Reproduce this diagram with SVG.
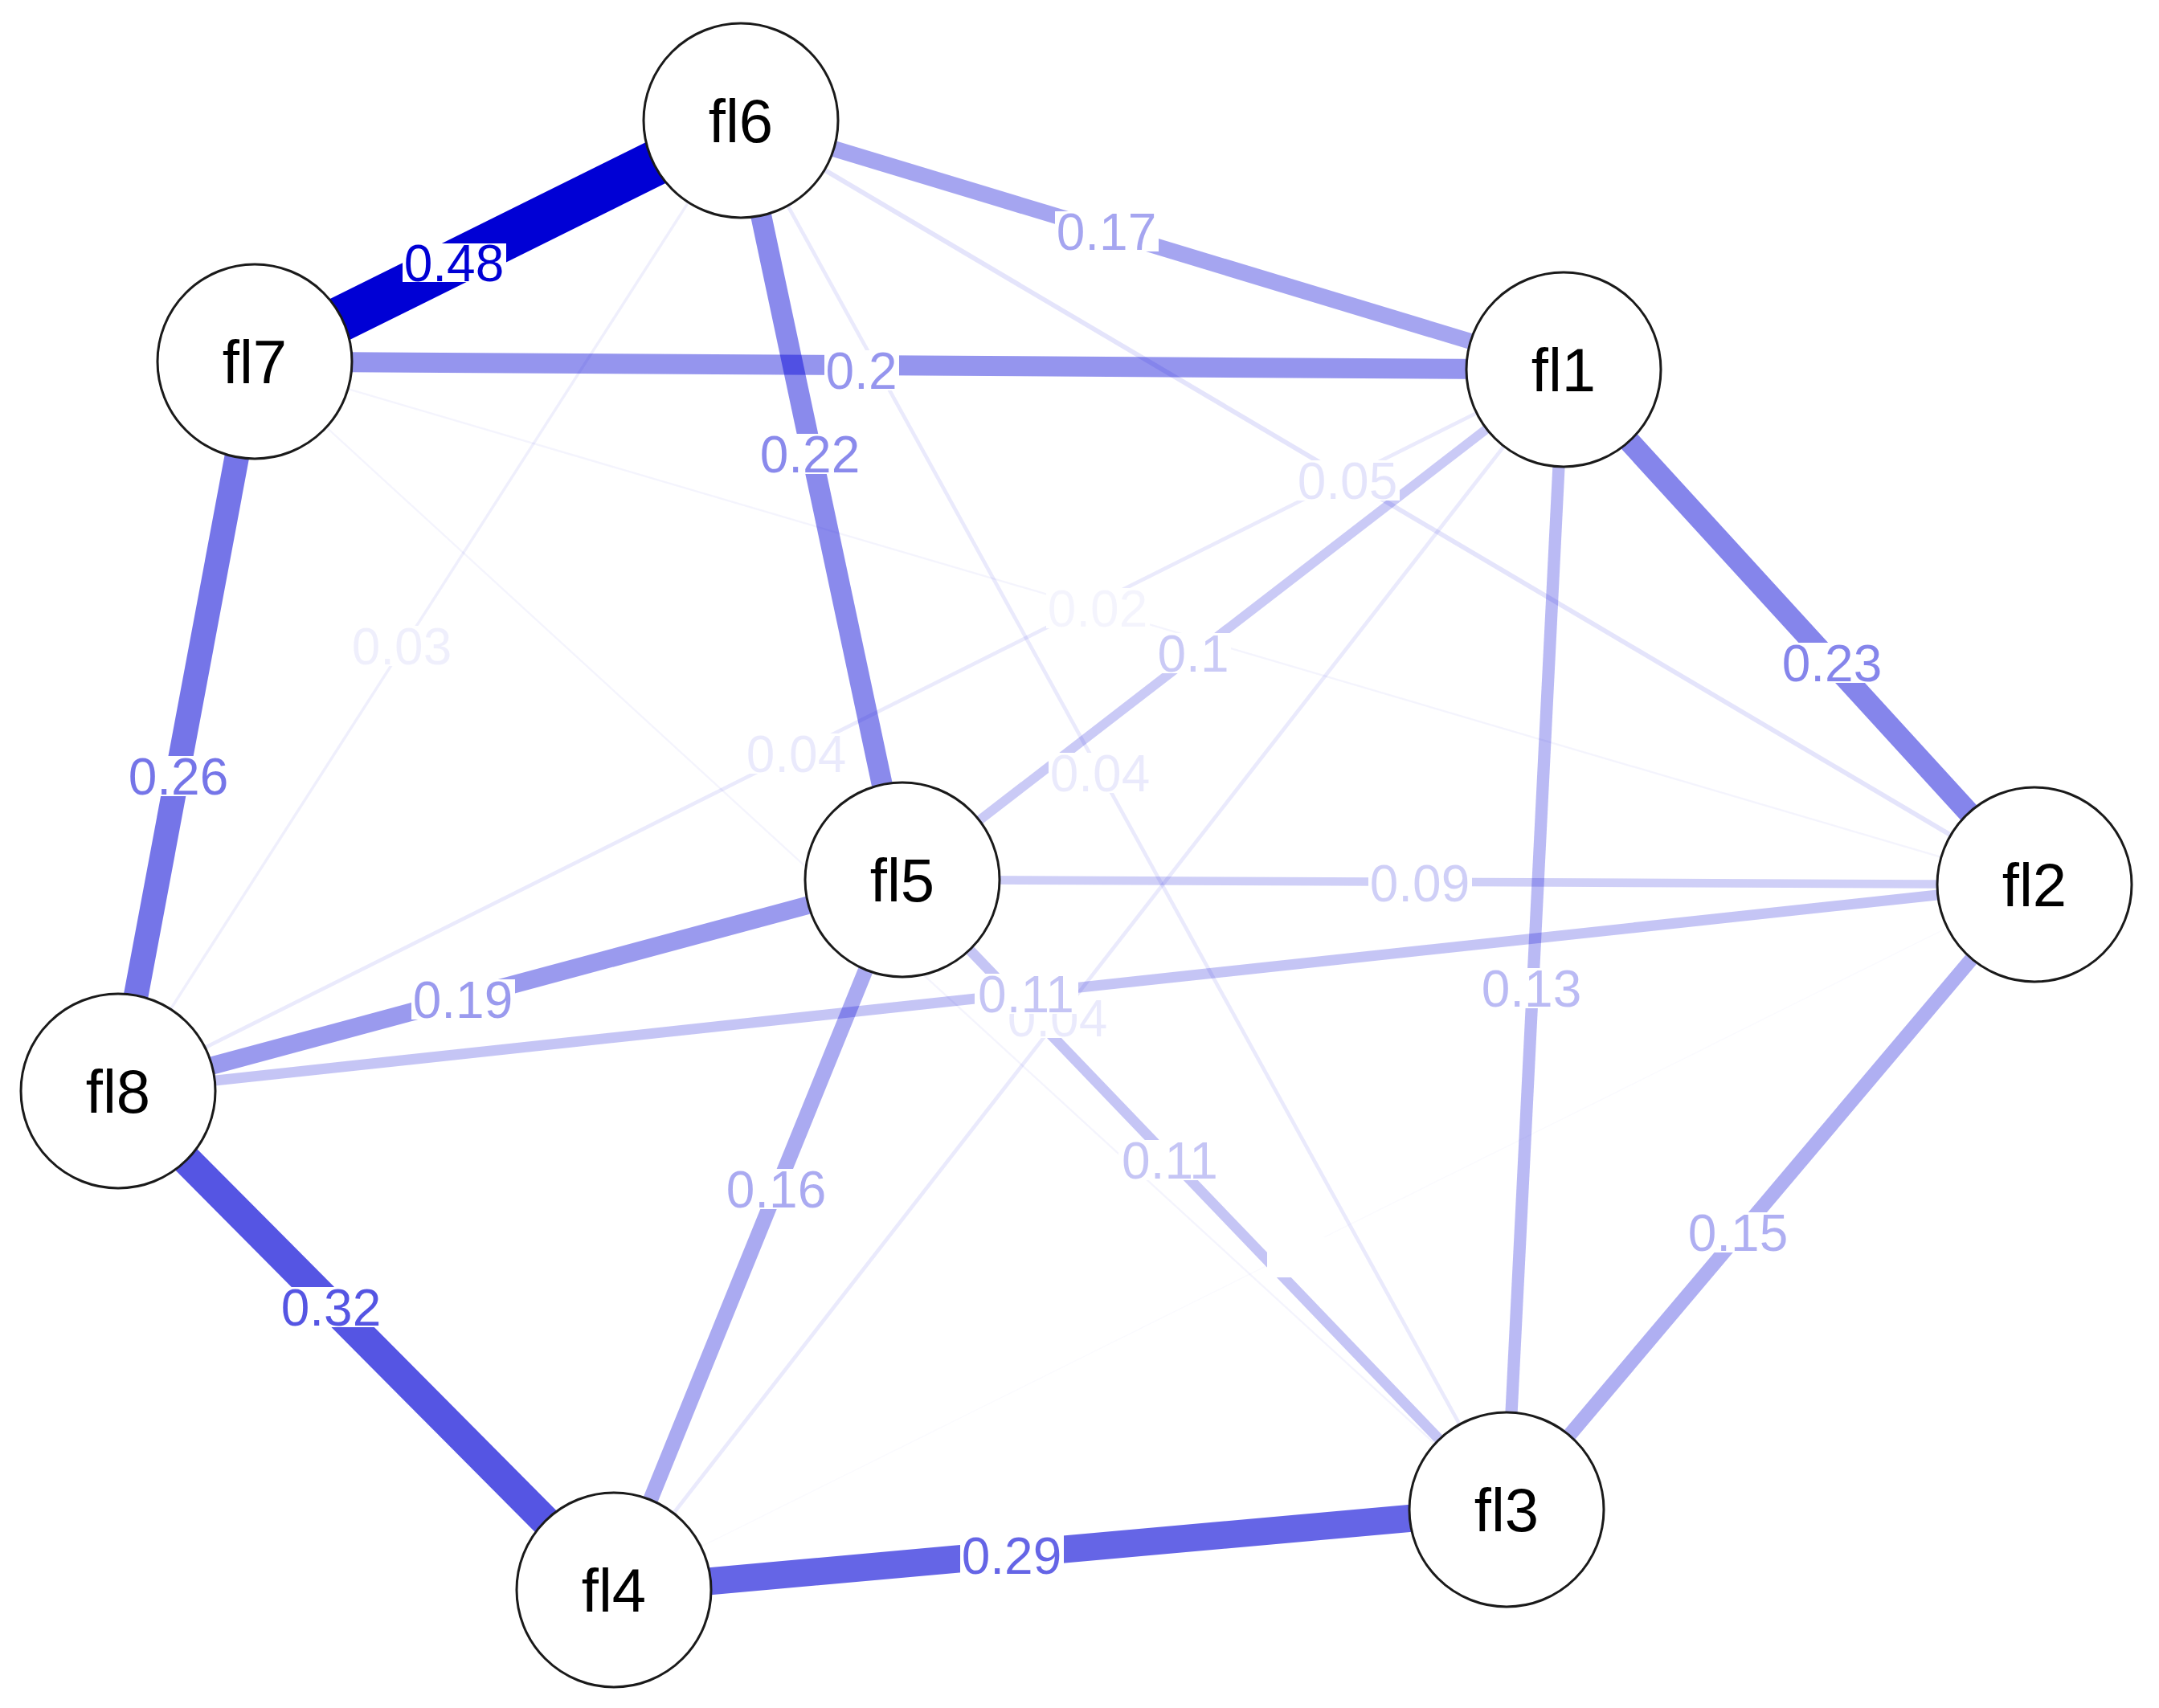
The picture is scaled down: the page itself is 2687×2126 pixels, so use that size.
<svg xmlns="http://www.w3.org/2000/svg" width="2687" height="2126" viewBox="0 0 2687 2126">
<style>
.e{fill:none;stroke:#0000D5;stroke-linecap:butt}
.bg{fill:#ffffff}
.lbl{font-family:"Liberation Sans",Arial,sans-serif;font-size:64px;text-anchor:middle;fill:#0000D5}
.node circle{fill:#ffffff;stroke:#1a1a1a;stroke-width:3}
.node text{font-family:"Liberation Sans",Arial,sans-serif;font-size:76px;text-anchor:middle;fill:#000000}
</style>
<rect x="0" y="0" width="2687" height="2126" fill="#ffffff"/>
<g id="connectors">
<line class="e" x1="764" y1="1979" x2="2532" y2="1101" stroke-width="1.5" stroke-opacity="0.02"/>
<line class="e" x1="317" y1="450" x2="1875" y2="1879" stroke-width="2.4" stroke-opacity="0.045"/>
<line class="e" x1="317" y1="450" x2="2532" y2="1101" stroke-width="2.4" stroke-opacity="0.042"/>
<line class="e" x1="147" y1="1358" x2="922" y2="150" stroke-width="3.5" stroke-opacity="0.0625"/>
<line class="e" x1="147" y1="1358" x2="1946" y2="460" stroke-width="4.7" stroke-opacity="0.083"/>
<line class="e" x1="922" y1="150" x2="1875" y2="1879" stroke-width="4.7" stroke-opacity="0.083"/>
<line class="e" x1="1946" y1="460" x2="764" y2="1979" stroke-width="4.7" stroke-opacity="0.083"/>
<line class="e" x1="922" y1="150" x2="2532" y2="1101" stroke-width="5.9" stroke-opacity="0.104"/>
<line class="e" x1="1123" y1="1095" x2="2532" y2="1101" stroke-width="10.6" stroke-opacity="0.1875"/>
<line class="e" x1="1123" y1="1095" x2="1946" y2="460" stroke-width="11.8" stroke-opacity="0.208"/>
<line class="e" x1="147" y1="1358" x2="2532" y2="1101" stroke-width="13" stroke-opacity="0.229"/>
<line class="e" x1="1123" y1="1095" x2="1875" y2="1879" stroke-width="13" stroke-opacity="0.229"/>
<line class="e" x1="1946" y1="460" x2="1875" y2="1879" stroke-width="15.3" stroke-opacity="0.271"/>
<line class="e" x1="2532" y1="1101" x2="1875" y2="1879" stroke-width="17.7" stroke-opacity="0.3125"/>
<line class="e" x1="1123" y1="1095" x2="764" y2="1979" stroke-width="18.9" stroke-opacity="0.333"/>
<line class="e" x1="922" y1="150" x2="1946" y2="460" stroke-width="20" stroke-opacity="0.354"/>
<line class="e" x1="147" y1="1358" x2="1123" y2="1095" stroke-width="22.4" stroke-opacity="0.396"/>
<line class="e" x1="317" y1="450" x2="1946" y2="460" stroke-width="25" stroke-opacity="0.417"/>
<line class="e" x1="922" y1="150" x2="1123" y2="1095" stroke-width="26" stroke-opacity="0.458"/>
<line class="e" x1="1946" y1="460" x2="2532" y2="1101" stroke-width="27.1" stroke-opacity="0.479"/>
<line class="e" x1="317" y1="450" x2="147" y2="1358" stroke-width="30.7" stroke-opacity="0.542"/>
<line class="e" x1="764" y1="1979" x2="1875" y2="1879" stroke-width="34.2" stroke-opacity="0.604"/>
<line class="e" x1="147" y1="1358" x2="764" y2="1979" stroke-width="37.8" stroke-opacity="0.667"/>
<line class="e" x1="922" y1="150" x2="317" y2="450" stroke-width="56.6" stroke-opacity="1"/>
</g>
<g id="edge-labels">
<rect class="bg" x="1577" y="1540" width="98" height="50"/>
<rect class="bg" x="1302" y="732" width="129" height="50"/>
<text class="lbl" x="1366" y="780" fill-opacity="0.042">0.02</text>
<rect class="bg" x="436" y="779" width="129" height="50"/>
<text class="lbl" x="500" y="827" fill-opacity="0.0625">0.03</text>
<rect class="bg" x="927" y="913" width="129" height="50"/>
<text class="lbl" x="991" y="961" fill-opacity="0.083">0.04</text>
<rect class="bg" x="1305" y="937" width="129" height="50"/>
<text class="lbl" x="1369" y="985" fill-opacity="0.083">0.04</text>
<rect class="bg" x="1252" y="1242" width="129" height="50"/>
<text class="lbl" x="1316" y="1290" fill-opacity="0.083">0.04</text>
<rect class="bg" x="1613" y="573" width="129" height="50"/>
<text class="lbl" x="1677" y="621" fill-opacity="0.104">0.05</text>
<rect class="bg" x="1703" y="1074" width="129" height="50"/>
<text class="lbl" x="1767" y="1122" fill-opacity="0.1875">0.09</text>
<rect class="bg" x="1439" y="788" width="93" height="50"/>
<text class="lbl" x="1485" y="836" fill-opacity="0.208">0.1</text>
<rect class="bg" x="1213" y="1212" width="129" height="50"/>
<text class="lbl" x="1277" y="1260" fill-opacity="0.229">0.11</text>
<rect class="bg" x="1392" y="1419" width="129" height="50"/>
<text class="lbl" x="1456" y="1467" fill-opacity="0.229">0.11</text>
<rect class="bg" x="1842" y="1205" width="129" height="50"/>
<text class="lbl" x="1906" y="1253" fill-opacity="0.271">0.13</text>
<rect class="bg" x="2099" y="1509" width="129" height="50"/>
<text class="lbl" x="2163" y="1557" fill-opacity="0.3125">0.15</text>
<rect class="bg" x="902" y="1455" width="129" height="50"/>
<text class="lbl" x="966" y="1503" fill-opacity="0.333">0.16</text>
<rect class="bg" x="1313" y="263" width="129" height="50"/>
<text class="lbl" x="1377" y="311" fill-opacity="0.354">0.17</text>
<rect class="bg" x="512" y="1219" width="129" height="50"/>
<text class="lbl" x="576" y="1267" fill-opacity="0.396">0.19</text>
<rect class="bg" x="1026" y="436" width="93" height="50"/>
<text class="lbl" x="1072" y="484" fill-opacity="0.417">0.2</text>
<rect class="bg" x="944" y="540" width="129" height="50"/>
<text class="lbl" x="1008" y="588" fill-opacity="0.458">0.22</text>
<rect class="bg" x="2216" y="800" width="129" height="50"/>
<text class="lbl" x="2280" y="848" fill-opacity="0.479">0.23</text>
<rect class="bg" x="158" y="941" width="129" height="50"/>
<text class="lbl" x="222" y="989" fill-opacity="0.542">0.26</text>
<rect class="bg" x="1195" y="1911" width="129" height="50"/>
<text class="lbl" x="1259" y="1959" fill-opacity="0.604">0.29</text>
<rect class="bg" x="348" y="1602" width="129" height="50"/>
<text class="lbl" x="412" y="1650" fill-opacity="0.667">0.32</text>
<rect class="bg" x="501" y="303" width="129" height="48"/>
<text class="lbl" x="565" y="350">0.48</text>
</g>
<g id="fl1" class="node"><circle cx="1946" cy="460" r="121"/><text x="1946" y="487">fl1</text></g>
<g id="fl2" class="node"><circle cx="2532" cy="1101" r="121"/><text x="2532" y="1128">fl2</text></g>
<g id="fl3" class="node"><circle cx="1875" cy="1879" r="121"/><text x="1875" y="1906">fl3</text></g>
<g id="fl4" class="node"><circle cx="764" cy="1979" r="121"/><text x="764" y="2006">fl4</text></g>
<g id="fl5" class="node"><circle cx="1123" cy="1095" r="121"/><text x="1123" y="1122">fl5</text></g>
<g id="fl6" class="node"><circle cx="922" cy="150" r="121"/><text x="922" y="177">fl6</text></g>
<g id="fl7" class="node"><circle cx="317" cy="450" r="121"/><text x="317" y="477">fl7</text></g>
<g id="fl8" class="node"><circle cx="147" cy="1358" r="121"/><text x="147" y="1385">fl8</text></g>
</svg>
